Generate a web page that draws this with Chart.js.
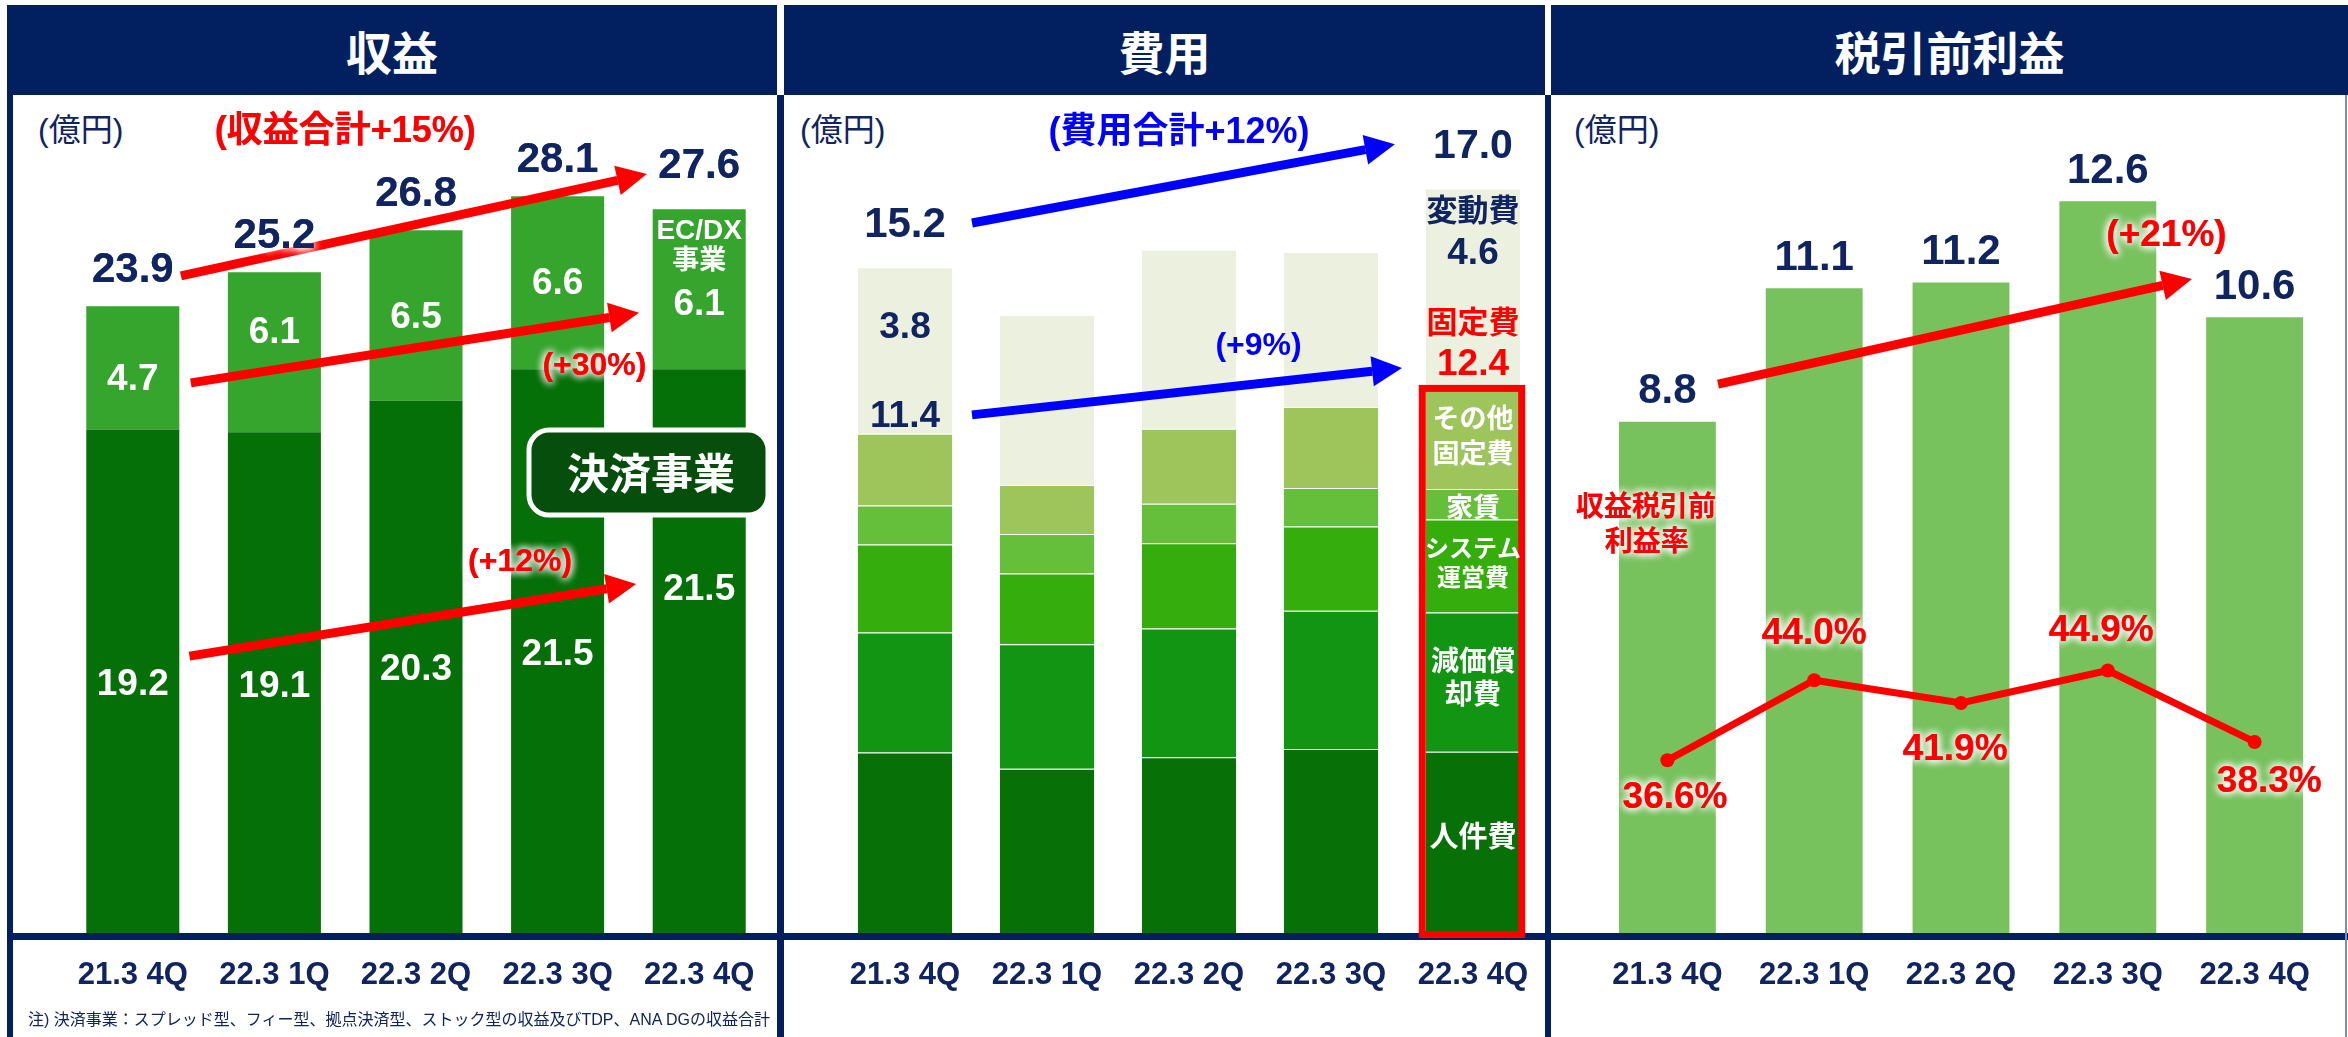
<!DOCTYPE html>
<html lang="ja">
<head>
<meta charset="utf-8">
<title>収益・費用・税引前利益</title>
<script src="https://cdn.jsdelivr.net/npm/chart.js@4.4.1/dist/chart.umd.min.js"></script>
<style>
  body { margin: 0; width: 2348px; height: 1037px; position: relative; background: #fff; overflow: hidden;
         font-family: "Liberation Sans", "Noto Sans CJK JP", sans-serif; }
  .hdr { position: absolute; top: 5px; height: 90px; background: #022060; color: #fff;
         font: bold 46px "Noto Sans CJK JP", sans-serif; display: flex; align-items: center; justify-content: center; }
  .vline { position: absolute; top: 95px; bottom: 0; background: #022060; }
  .hline { position: absolute; left: 7px; right: 0; top: 933px; height: 7px; background: #022060; }
  .unit { position: absolute; top: 110px; font-size: 32px; line-height: 40px; color: #0f2460; }
  .box { position: absolute; top: 96px; height: 941px; }
  .note { position: absolute; left: 28px; top: 1008px; font-size: 16px; line-height: 24px; color: #0f2460; white-space: nowrap; }
</style>
</head>
<body>
<div class="hdr" style="left:7px;width:770px">収益</div>
<div class="hdr" style="left:784px;width:761px">費用</div>
<div class="hdr" style="left:1551px;width:797px">税引前利益</div>

<div class="hline"></div>
<div class="vline" style="left:7px;width:6px"></div>
<div class="vline" style="left:777px;width:7px"></div>
<div class="vline" style="left:1545px;width:6px"></div>
<div class="vline" style="left:2345px;width:2px;background:#7d8db5"></div>

<div class="unit" style="left:38px">(億円)</div>
<div class="unit" style="left:800px">(億円)</div>
<div class="unit" style="left:1574px">(億円)</div>

<div class="box" style="left:62px;width:708px"><canvas id="revenue"></canvas></div>
<div class="box" style="left:834px;width:710px"><canvas id="cost"></canvas></div>
<div class="box" style="left:1560px;width:768px"><canvas id="profit"></canvas></div>

<div class="note">注) 決済事業：スプレッド型、フィー型、拠点決済型、ストック型の収益及びTDP、ANA DGの収益合計</div>

<script>
const quarters = ["21.3 4Q", "22.3 1Q", "22.3 2Q", "22.3 3Q", "22.3 4Q"];

// 収益 (億円)
const kessai = [19.2, 19.1, 20.3, 21.5, 21.5];
const ecdx = [4.7, 6.1, 6.5, 6.6, 6.1];
const revenueTotal = [23.9, 25.2, 26.8, 28.1, 27.6];

// 費用 (億円)
const jinkenhi = [4.12, 3.75, 4.01, 4.20, 4.14];
const genka = [2.74, 2.84, 2.94, 3.16, 3.18];
const systemHi = [2.01, 1.62, 1.95, 1.92, 2.12];
const yachin = [0.89, 0.90, 0.90, 0.88, 0.70];
const sonota = [1.64, 1.12, 1.71, 1.85, 2.26];
const hendou = [3.8, 3.88, 4.09, 3.54, 4.6];

// 税引前利益 (億円) / 収益税引前利益率 (%)
const profit = [8.8, 11.1, 11.2, 12.6, 10.6];
const margin = [36.6, 44.0, 41.9, 44.9, 38.3];

const NAVY = "#0f2460";
const RED = "#ff0000";
const BLUE = "#0000ff";
const WHITE = "#ffffff";
const FAM = "'Liberation Sans','Noto Sans CJK JP',sans-serif";

const fmt = v => v.toFixed(1);
const font = size => `bold ${size}px ${FAM}`;
const fixedSum = i => jinkenhi[i] + genka[i] + systemHi[i] + yachin[i] + sonota[i];
const seam = { top: 1, right: 0, bottom: 0, left: 0 };

function drawArrow(ctx, x1, y1, x2, y2, color) {
  const ang = Math.atan2(y2 - y1, x2 - x1);
  const head = 30, half = 15;
  const bx = x2 - head * Math.cos(ang);
  const by = y2 - head * Math.sin(ang);
  ctx.strokeStyle = color;
  ctx.fillStyle = color;
  ctx.lineWidth = 9;
  ctx.beginPath();
  ctx.moveTo(x1, y1);
  ctx.lineTo(bx, by);
  ctx.stroke();
  ctx.beginPath();
  ctx.moveTo(x2, y2);
  ctx.lineTo(bx + half * Math.sin(ang), by - half * Math.cos(ang));
  ctx.lineTo(bx - half * Math.sin(ang), by + half * Math.cos(ang));
  ctx.closePath();
  ctx.fill();
}

function drawText(ctx, t, x, y) {
  ctx.font = t.font;
  ctx.fillStyle = t.color;
  ctx.textAlign = "center";
  ctx.textBaseline = "middle";
  if (t.glow) {
    ctx.shadowColor = WHITE;
    ctx.shadowBlur = 8;
    for (let k = 0; k < 3; k++) ctx.fillText(t.text, x, y);
    ctx.shadowBlur = 0;
    ctx.shadowColor = "transparent";
  } else {
    ctx.fillText(t.text, x, y);
  }
}

function roundRect(ctx, x, y, w, h, r) {
  ctx.beginPath();
  ctx.moveTo(x + r, y);
  ctx.arcTo(x + w, y, x + w, y + h, r);
  ctx.arcTo(x + w, y + h, x, y + h, r);
  ctx.arcTo(x, y + h, x, y, r);
  ctx.arcTo(x, y, x + w, y, r);
  ctx.closePath();
}

// draws arrows, labels and boxes at positions given in scale units
const notesPlugin = {
  id: "notes",
  afterDatasetsDraw(chart, args, opts) {
    const ctx = chart.ctx;
    const px = i => chart.scales.x.getPixelForValue(i);
    const py = (v, axis) => chart.scales[axis || "y"].getPixelForValue(v);
    ctx.save();

    (opts.badges || []).forEach(b => {
      const x1 = px(b.i1), x2 = px(b.i2), y1 = py(b.v1), y2 = py(b.v2);
      roundRect(ctx, x1, y1, x2 - x1, y2 - y1, 20);
      ctx.fillStyle = "#054e0b";
      ctx.fill();
      ctx.lineWidth = 5;
      ctx.strokeStyle = WHITE;
      ctx.stroke();
    });

    if (opts.frame) {
      const f = opts.frame;
      const bottom = chart.getDatasetMeta(f.from).data[f.index].getProps(["x", "base", "width"], true);
      const top = chart.getDatasetMeta(f.to).data[f.index].getProps(["y"], true);
      ctx.lineWidth = 7;
      ctx.strokeStyle = RED;
      ctx.strokeRect(bottom.x - bottom.width / 2 - 3.5, top.y - 1.5, bottom.width + 5, bottom.base - top.y + 3);
    }

    (opts.arrows || []).forEach(a => {
      drawArrow(ctx, px(a.from[0]), py(a.from[1]), px(a.to[0]), py(a.to[1]), a.color);
    });

    (opts.texts || []).forEach(t => {
      drawText(ctx, t, px(t.i) + (t.dx || 0), py(t.v, t.axis) + (t.dy || 0));
    });

    ctx.restore();
  }
};

function baseOptions(yMax, barPct, stacked) {
  return {
    responsive: true,
    maintainAspectRatio: false,
    animation: false,
    layout: { padding: 0, autoPadding: false },
    datasets: { bar: { barPercentage: barPct, categoryPercentage: 1 } },
    plugins: { legend: { display: false }, tooltip: { enabled: false } },
    scales: {
      x: {
        stacked,
        grid: { display: false, drawTicks: false },
        border: { display: false },
        ticks: {
          color: NAVY,
          padding: 24,
          maxRotation: 0,
          autoSkip: false,
          font: { family: "Liberation Sans", size: 31, weight: "bold" }
        },
        afterFit: s => {
          s.height = 104;
          s.paddingLeft = 0;
          s.paddingRight = 0;
        }
      },
      y: { stacked, display: false, min: 0, max: yMax }
    }
  };
}

// ---- 収益 ----
const revOpts = baseOptions(31.92, 0.657, true);
revOpts.plugins.notes = {
  badges: [{ i1: 2.798, i2: 4.486, v1: 19.18, v2: 15.94 }],
  arrows: [
    { from: [0.34, 25.06], to: [3.63, 28.95], color: RED },
    { from: [0.41, 20.98], to: [3.575, 23.65], color: RED },
    { from: [0.40, 10.56], to: [3.555, 13.31], color: RED }
  ],
  texts: [
    { text: "(収益合計+15%)", i: 1.5, v: 30.55, font: font(36), color: RED, glow: true },
    ...revenueTotal.map((v, i) => ({ text: fmt(v), i, v, dy: i === 4 ? -43 : -36, font: font(42), color: NAVY, glow: true })),
    ...ecdx.map((v, i) => ({ text: fmt(v), i, v: kessai[i] + v / 2, dy: [12, -19, 2, 1, 16][i], font: font(37), color: WHITE })),
    ...kessai.map((v, i) => ({ text: fmt(v), i, v: v / 2, dy: [4, 4, 3, 4, -61][i], font: font(37), color: WHITE })),
    { text: "EC/DX", i: 4, v: 26.77, font: font(28), color: WHITE },
    { text: "事業", i: 4, v: 25.59, font: font(27), color: WHITE },
    { text: "(+30%)", i: 3.26, v: 21.62, font: font(32), color: RED, glow: true },
    { text: "(+12%)", i: 2.735, v: 14.15, font: font(32), color: RED, glow: true },
    { text: "決済事業", i: 3.66, v: 17.39, font: font(42), color: WHITE }
  ]
};

new Chart(document.getElementById("revenue"), {
  type: "bar",
  data: {
    labels: quarters,
    datasets: [
      { label: "決済事業", data: kessai, backgroundColor: "#067008" },
      { label: "EC/DX事業", data: ecdx, backgroundColor: "#35a52d" }
    ]
  },
  options: revOpts,
  plugins: [notesPlugin]
});

// ---- 費用 ----
const costOpts = baseOptions(19.11, 0.665, true);
const last = quarters.length - 1;
costOpts.plugins.notes = {
  frame: { index: last, from: 0, to: 4 },
  arrows: [
    { from: [0.472, 16.21], to: [3.45, 18.01], color: BLUE },
    { from: [0.472, 11.83], to: [3.5, 12.90], color: BLUE }
  ],
  texts: [
    { text: "(費用合計+12%)", i: 1.93, v: 18.26, font: font(36), color: BLUE },
    { text: fmt(fixedSum(0) + hendou[0]), i: 0, v: 16.16, font: font(42), color: NAVY },
    { text: fmt(fixedSum(last) + hendou[last]), i: last, v: 17.95, font: font(41), color: NAVY },
    { text: "変動費", i: last, v: 16.44, font: font(31), color: NAVY },
    { text: fmt(hendou[last]), i: last, v: 15.5, font: font(37), color: NAVY },
    { text: fmt(hendou[0]), i: 0, v: 13.81, font: font(37), color: NAVY },
    { text: fmt(fixedSum(0)), i: 0, v: 11.78, font: font(37), color: NAVY },
    { text: "(+9%)", i: 2.49, v: 13.40, font: font(32), color: BLUE },
    { text: "固定費", i: last, v: 13.90, font: font(31), color: RED },
    { text: fmt(fixedSum(last)), i: last, v: 12.97, font: font(37), color: RED },
    { text: "その他", i: last, v: 11.69, font: font(27), color: WHITE },
    { text: "固定費", i: last, v: 10.91, font: font(27), color: WHITE },
    { text: "家賃", i: last, v: 9.66, font: font(27), color: WHITE },
    { text: "システム", i: last, v: 8.74, font: font(24), color: WHITE },
    { text: "運営費", i: last, v: 8.08, font: font(24), color: WHITE },
    { text: "減価償", i: last, v: 6.16, font: font(28), color: WHITE },
    { text: "却費", i: last, v: 5.41, font: font(28), color: WHITE },
    { text: "人件費", i: last, v: 2.15, font: font(29), color: WHITE }
  ]
};

new Chart(document.getElementById("cost"), {
  type: "bar",
  data: {
    labels: quarters,
    datasets: [
      { label: "人件費", data: jinkenhi, backgroundColor: "#077108" },
      { label: "減価償却費", data: genka, backgroundColor: "#129512" },
      { label: "システム運営費", data: systemHi, backgroundColor: "#35ad0d" },
      { label: "家賃", data: yachin, backgroundColor: "#66bf3a" },
      { label: "その他固定費", data: sonota, backgroundColor: "#9dc55b" },
      { label: "変動費", data: hendou, backgroundColor: "#ebf0df" }
    ].map(d => ({ ...d, borderWidth: seam, borderColor: "rgba(255,255,255,0.18)", borderSkipped: false }))
  },
  options: costOpts,
  plugins: [notesPlugin]
});

// ---- 税引前利益 ----
const profitOpts = baseOptions(14.41, 0.66, false);
profitOpts.layout.padding = { left: 34 };
profitOpts.scales.y2 = { display: false, min: 20.64, max: 98.0 };
profitOpts.plugins.notes = {
  arrows: [{ from: [0.345, 9.45], to: [3.573, 11.26], color: RED }],
  texts: [
    ...profit.map((v, i) => ({ text: fmt(v), i, v, dy: -30, font: font(42), color: NAVY })),
    { text: "(+21%)", i: 3.40, v: 12.0, font: font(37), color: RED, glow: true },
    { text: "収益税引前", i: -0.146, v: 7.31, font: font(28), color: RED, glow: true },
    { text: "利益率", i: -0.14, v: 6.71, font: font(28), color: RED, glow: true },
    { text: margin[0].toFixed(1) + "%", i: 0.052, v: 33.12, axis: "y2", font: font(37), color: RED, glow: true },
    { text: margin[1].toFixed(1) + "%", i: 1.0, v: 48.27, axis: "y2", font: font(37), color: RED, glow: true },
    { text: margin[2].toFixed(1) + "%", i: 1.96, v: 37.55, axis: "y2", font: font(37), color: RED, glow: true },
    { text: margin[3].toFixed(1) + "%", i: 2.955, v: 48.55, axis: "y2", font: font(37), color: RED, glow: true },
    { text: margin[4].toFixed(1) + "%", i: 4.10, v: 34.64, axis: "y2", font: font(37), color: RED, glow: true }
  ]
};

new Chart(document.getElementById("profit"), {
  type: "bar",
  data: {
    labels: quarters,
    datasets: [
      { type: "line", label: "収益税引前利益率", data: margin, yAxisID: "y2", order: 0,
        borderColor: RED, backgroundColor: RED, borderWidth: 7,
        pointRadius: 7, pointBackgroundColor: RED, pointBorderWidth: 0, tension: 0 },
      { label: "税引前利益", data: profit, yAxisID: "y", order: 1, backgroundColor: "#78c25e" }
    ]
  },
  options: profitOpts,
  plugins: [notesPlugin]
});
</script>
</body>
</html>
